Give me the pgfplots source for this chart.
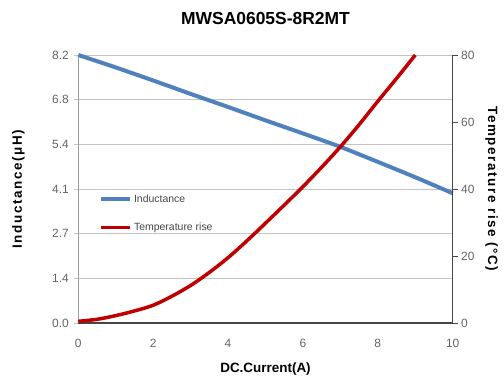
\documentclass[border=0pt]{standalone}
\usepackage{fontspec}
\setmainfont{Liberation Sans}
\newfontfamily\spaced{Liberation Sans}[LetterSpace=12]
\usepackage{pgfplots}
\pgfplotsset{compat=1.18}

\definecolor{indblue}{RGB}{79,129,189}
\definecolor{tempred}{RGB}{192,0,0}
\definecolor{ticktext}{RGB}{100,100,100}
\definecolor{gridgray}{RGB}{195,195,195}
\definecolor{axisdark}{RGB}{70,70,70}

\pgfplotsset{
  common/.style={
    scale only axis, width=374.4bp, height=268bp,
    at={(0,0)}, anchor=south west,
    xmin=0, xmax=10, xtick={0,2,...,10},
    /pgf/number format/assume math mode=true,
    ticklabel style={font=\fontsize{12}{14}\selectfont, text=ticktext},
    label style={font=\bfseries\fontsize{13.5}{15}\selectfont, text=black},
    clip=false,
  },
}

\begin{document}
\begin{tikzpicture}
\begin{axis}[
  common,
  ymin=0, ymax=8.2,
  ytick={0,1.366667,2.733333,4.1,5.466667,6.833333,8.2},
  yticklabels={0.0,1.4,2.7,4.1,5.4,6.8,8.2},
  axis x line*=bottom, axis y line*=left,
  x axis line style={draw=axisdark, line width=1.3bp},
  y axis line style={draw=gridgray!80!black, line width=1bp},
  xtick style={draw=none},
  ytick style={draw=gridgray, line width=0.8bp},
  tick align=outside, major tick length=4bp,
  ymajorgrids, grid style={draw=gridgray, line width=0.8bp},
  xticklabel style={yshift=-9bp},
  yticklabel style={xshift=-2bp},
  title={MWSA0605S-8R2MT},
  title style={font=\bfseries\fontsize{17.5}{20}\selectfont,
    at={([yshift=31bp]axis description cs:0.5,1)}, anchor=center},
  xlabel={DC.Current(A)},
  xlabel style={at={([yshift=-46bp]axis description cs:0.5,0)}, anchor=center},
  ylabel={{\spaced Inductance(μH)}},
  ylabel style={at={([xshift=-60bp]axis description cs:0,0.5)}, anchor=center, rotate=0},
  legend style={at={(axis description cs:0.055,0.487)}, anchor=north west,
    draw=none, fill=none, inner sep=0pt,
    font=\fontsize{10.5}{12}\selectfont, text=axisdark,
    row sep=15bp},
  legend cell align=left,
  legend image code/.code={\draw[#1] (0bp,0bp) -- (29bp,0bp);},
]
\addplot[indblue, line width=4bp, smooth, tension=0.3] coordinates {
  (0,8.20) (1,7.82) (2,7.42) (3,7.01) (4,6.61) (5,6.20)
  (6,5.80) (7,5.39) (8,4.93) (9,4.46) (10,3.97)
};
\addlegendentry{Inductance}
\addlegendimage{tempred, line width=3.5bp}
\addlegendentry{Temperature rise}
\end{axis}

\begin{axis}[
  common,
  ymin=0, ymax=80, ytick={0,20,...,80},
  axis x line=none, axis y line*=right,
  y axis line style={draw=axisdark, line width=1bp},
  ytick style={draw=axisdark, line width=0.8bp},
  tick align=outside, major tick length=5bp,
  ylabel={{\spaced Temperature rise (°C)}},
  ylabel style={at={([xshift=39bp]axis description cs:1,0.5)}, anchor=center, rotate=180},
]
\addplot[tempred, line width=3.5bp, smooth, tension=0.5] coordinates {
  (0,0.5) (0.5,1.1) (1,2.2) (1.5,3.6) (2,5.3) (2.5,8.0) (3,11.2)
  (3.5,15.1) (4,19.5) (4.5,24.5) (5,29.8) (5.5,35.2)
  (6,40.7) (6.5,46.5) (7,52.6) (7.5,59.2) (8,66.2) (8.5,73.0) (9,80)
};
\end{axis}
\pgfresetboundingbox
\path (-78.3bp,-57bp) rectangle (425.7bp,323bp);
\end{tikzpicture}
\end{document}
